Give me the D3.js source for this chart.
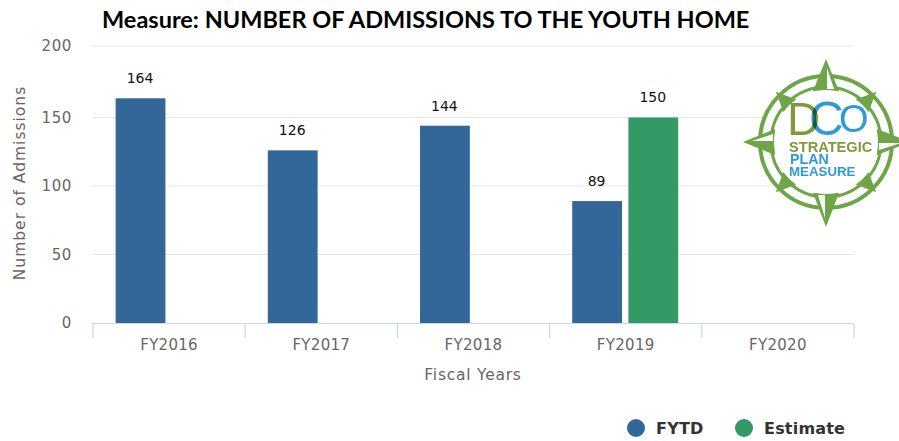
<!DOCTYPE html>
<html>
<head>
<meta charset="utf-8">
<script src="https://cdn.jsdelivr.net/npm/d3@7"></script>
<style>
html,body{margin:0;padding:0;background:#fff;}
svg{display:block;}
</style>
</head>
<body>
<svg id="chart" width="899" height="441"></svg>
<script>
const categories = ["FY2016","FY2017","FY2018","FY2019","FY2020"];
const fytd = [164,126,144,89,null];
const estimate = [null,null,null,150,null];
const yTicks = [0,50,100,150,200];
const seriesNames = ["FYTD","Estimate"];
const seriesColors = ["#336699","#339966"];

const svg = d3.select("#chart");
const font = "'DejaVu Sans',sans-serif";

const x = d3.scaleBand().domain(categories).range([93,854]);
const inner = d3.scaleBand().domain(seriesNames).range([22.6,128.6]).paddingInner(0.113);
// Value axis: the band above 164 is drawn slightly taller than the band below it
const y = d3.scaleLinear().domain([0,164,200]).range([323,98.3,46]);

// Title
svg.append("text").attr("x",102).attr("y",28)
  .attr("font-family","Lato,sans-serif").attr("font-weight",700).attr("font-size",23.5)
  .attr("fill","#000").text("Measure: NUMBER OF ADMISSIONS TO THE YOUTH HOME");

// Gridlines and value labels on the left
const grid = svg.append("g");
yTicks.filter(d=>d>0).forEach(t=>{
  grid.append("line").attr("x1",93).attr("x2",854).attr("y1",y(t)).attr("y2",y(t))
    .attr("stroke","#e6e6e6").attr("stroke-width",1);
});
const yAxis = d3.axisLeft(y).tickValues(yTicks).tickSize(0).tickPadding(0);
const yG = svg.append("g").attr("transform","translate(72,0)").call(yAxis);
yG.select(".domain").remove();
yG.selectAll("text").attr("font-family",font).attr("font-size",15)
  .attr("fill","#666").attr("letter-spacing",0.6).attr("dy","0.33em");

// Bars
const rows = [
  {name:"FYTD",values:fytd,color:seriesColors[0]},
  {name:"Estimate",values:estimate,color:seriesColors[1]}
];
rows.forEach(s=>{
  const g = svg.append("g");
  const pts = categories.map((c,i)=>({c,v:s.values[i],name:s.name})).filter(d=>d.v!==null);
  g.selectAll("rect").data(pts).join("rect")
    .attr("x",d=>x(d.c)+inner(d.name)).attr("width",inner.bandwidth())
    .attr("y",d=>y(d.v)).attr("height",d=>y(0)-y(d.v)).attr("fill",s.color);
  g.selectAll("text").data(pts).join("text")
    .attr("x",d=>x(d.c)+inner(d.name)+inner.bandwidth()/2-0.5)
    .attr("y",d=>y(d.v)-15)
    .attr("text-anchor","middle").attr("font-family",font).attr("font-size",14)
    .attr("fill","#111").text(d=>d.v);
});

// Category axis with ticks at the band edges
const axisG = svg.append("g");
axisG.append("line").attr("x1",93).attr("x2",854).attr("y1",323.5).attr("y2",323.5)
  .attr("stroke","#ccd6e6").attr("stroke-width",1.2);
[...categories.map(c=>x(c)),x.range()[1]].forEach(px=>{
  axisG.append("line").attr("x1",px).attr("x2",px).attr("y1",323).attr("y2",338)
    .attr("stroke","#ccd6e6").attr("stroke-width",1.2);
});
axisG.selectAll("text").data(categories).join("text")
  .attr("x",d=>x(d)+x.bandwidth()/2).attr("y",350)
  .attr("text-anchor","middle").attr("font-family",font).attr("font-size",15)
  .attr("letter-spacing",0.3).attr("fill","#666").text(d=>d);

// Axis titles
svg.append("text").attr("x",473).attr("y",380).attr("text-anchor","middle")
  .attr("font-family",font).attr("font-size",15.5).attr("fill","#666").attr("letter-spacing",0.75).text("Fiscal Years");
svg.append("text").attr("transform","translate(25,183) rotate(-90)").attr("text-anchor","middle")
  .attr("font-family",font).attr("font-size",15.5).attr("fill","#666").attr("letter-spacing",1).text("Number of Admissions");

// Legend
const legendX = [636,744], legendTextX = [656,764];
seriesNames.forEach((n,i)=>{
  svg.append("circle").attr("cx",legendX[i]).attr("cy",428).attr("r",9).attr("fill",seriesColors[i]);
  svg.append("text").attr("x",legendTextX[i]).attr("y",434)
    .attr("font-family",font).attr("font-weight",700).attr("font-size",16)
    .attr("fill","#333").attr("letter-spacing",0.2).text(n);
});

// Compass badge
const defs = svg.append("defs");
defs.append("filter").attr("id","soft").append("feGaussianBlur").attr("stdDeviation",0.7);
const badge = svg.append("g").attr("transform","translate(826,142)").attr("filter","url(#soft)");
const green = "#6ea54a";
const blue = "#2f9ad6";
const olive = "#7f9a3e";
badge.append("circle").attr("r",66).attr("fill","#fff").attr("stroke",green).attr("stroke-width",4);
badge.append("circle").attr("r",55).attr("fill","#fff").attr("stroke",green).attr("stroke-width",3);
const compassPoints = [
  {a:0,len:83,w:13,facet:true},{a:90,len:84,w:13,facet:true},{a:180,len:85,w:13,facet:true},{a:270,len:83,w:13,facet:true},
  {a:45,len:71,w:9},{a:135,len:71,w:9},{a:225,len:71,w:9},{a:315,len:71,w:9}
];
compassPoints.forEach(p=>{
  const g = badge.append("g").attr("transform",`rotate(${p.a})`);
  g.append("path").attr("d",`M0,${-p.len}L${p.w},-51L${-p.w},-51Z`).attr("fill",green);
  if(p.facet){
    g.append("path").attr("d",`M1,${-p.len+9}L${p.w*0.62},-53L1,-53Z`).attr("fill","#fff");
  }
});
badge.append("circle").attr("r",52).attr("fill","#fff");
const logoFont = "'Liberation Sans',sans-serif";
badge.append("text").attr("x",-39).attr("y",-7).attr("font-family",logoFont)
  .attr("font-size",46).attr("fill",olive).text("D");
badge.append("text").attr("x",-17).attr("y",-7).attr("font-family",logoFont)
  .attr("font-size",48).attr("fill",blue).style("mix-blend-mode","multiply").text("C");
badge.append("text").attr("x",13).attr("y",-10).attr("font-family",logoFont)
  .attr("font-size",38).attr("fill",blue).text("O");
badge.append("text").attr("x",-37).attr("y",10).attr("font-family",logoFont).attr("font-weight",700)
  .attr("font-size",14.6).attr("fill",olive).text("STRATEGIC");
badge.append("text").attr("x",-36).attr("y",22).attr("font-family",logoFont).attr("font-weight",700)
  .attr("font-size",14.2).attr("fill",blue).text("PLAN");
badge.append("text").attr("x",-37).attr("y",34).attr("font-family",logoFont).attr("font-weight",700)
  .attr("font-size",13.3).attr("fill",blue).text("MEASURE");
</script>
</body>
</html>
